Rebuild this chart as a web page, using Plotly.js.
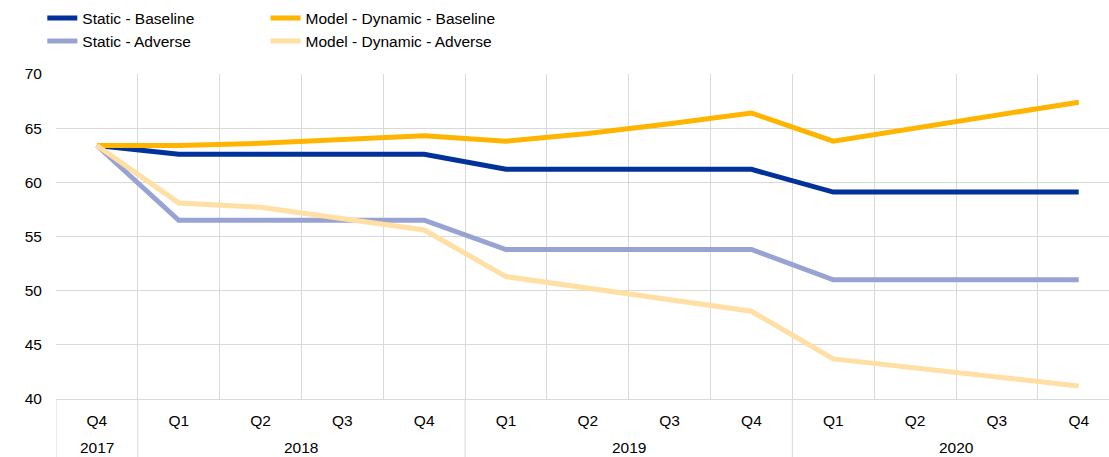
<!DOCTYPE html>
<html>
<head>
<meta charset="utf-8">
<script src="https://cdn.plot.ly/plotly-3.0.1.min.js"></script>
<style>html,body{margin:0;padding:0;background:#fff;overflow:hidden}#chart{width:1109px;height:457px}</style>
</head>
<body>
<div id="chart"></div>
<script>
const years = ["2017","2018","2018","2018","2018","2019","2019","2019","2019","2020","2020","2020","2020"];
const quarters = ["Q4","Q1","Q2","Q3","Q4","Q1","Q2","Q3","Q4","Q1","Q2","Q3","Q4"];
const staticBaseline = [63.4,62.6,62.6,62.6,62.6,61.2,61.2,61.2,61.2,59.1,59.1,59.1,59.1];
const modelBaseline  = [63.4,63.4,63.6,63.9,64.3,63.8,64.5,65.4,66.4,63.8,65.0,66.2,67.4];
const staticAdverse  = [63.4,56.5,56.5,56.5,56.5,53.8,53.8,53.8,53.8,51.0,51.0,51.0,51.0];
const modelAdverse   = [63.4,58.1,57.7,56.6,55.6,51.3,50.2,49.1,48.1,43.7,42.9,42.0,41.2];

const idx = quarters.map((q,i)=>i);
const boundaries = quarters.map((q,i)=>i-0.5).concat([quarters.length-0.5]);

// year groups
const groups = [];
years.forEach((y,i)=>{
  if(!groups.length || groups[groups.length-1].year!==y) groups.push({year:y,start:i,end:i});
  else groups[groups.length-1].end=i;
});
const GRID = '#d9d9d9';
const FS = 15.5;
const annotations = groups.map(g=>({
  xref:'x', yref:'paper', x:(g.start+g.end)/2, y:-0.148, yanchor:'middle', xanchor:'center',
  text:g.year, showarrow:false, font:{size:FS, color:'#000'}
}));
const divs = [groups[0].start-0.5].concat(groups.map(g=>g.end+0.5));
const shapes = divs.map(d=>({type:'line', xref:'x', yref:'paper', x0:d, x1:d, y0:0, y1:-0.2,
  line:{color:GRID, width:1}, layer:'below'}));

function tr(name, y, color, leg){
  return {type:'scatter', mode:'lines', name:name, x:idx, y:y, legend:leg,
    line:{color:color, width:5}, hoverinfo:'skip'};
}
const data = [
  tr('Static - Baseline', staticBaseline, '#003299', 'legend'),
  tr('Model - Dynamic - Baseline', modelBaseline, '#ffb400', 'legend2'),
  tr('Static - Adverse', staticAdverse, '#99a3d3', 'legend'),
  tr('Model - Dynamic - Adverse', modelAdverse, '#ffdfa3', 'legend2')
];
const legBase = {orientation:'v', xref:'paper', yref:'container', yanchor:'top', xanchor:'left',
  itemwidth:30, tracegroupgap:0, font:{size:FS, color:'#000'}, bgcolor:'rgba(0,0,0,0)', borderwidth:0};
const layout = {
  width:1109, height:457,
  margin:{l:56, r:0, t:74, b:58},
  paper_bgcolor:'#fff', plot_bgcolor:'#fff',
  font:{family:'Liberation Sans, Arial, sans-serif', size:FS, color:'#000'},
  showlegend:true,
  legend:Object.assign({}, legBase, {x:-0.013, y:0.997}),
  legend2:Object.assign({}, legBase, {x:0.199, y:0.997}),
  xaxis:{range:[-0.5,12.37], tickvals:idx, ticktext:quarters, showgrid:false,
    minor:{tickvals:boundaries, showgrid:true, gridcolor:GRID, gridwidth:1, ticks:''},
    showline:true, linecolor:GRID, linewidth:1, ticks:'', ticklabelstandoff:7,
    tickfont:{size:FS}, zeroline:false, fixedrange:true},
  yaxis:{range:[40,70], dtick:5, tick0:40, showgrid:true, gridcolor:GRID, gridwidth:1,
    zeroline:false, showline:false, ticks:'', ticklabelstandoff:13,
    tickfont:{size:FS}, fixedrange:true},
  annotations:annotations, shapes:shapes
};
Plotly.newPlot('chart', data, layout, {displayModeBar:false, staticPlot:true});
</script>
</body>
</html>
